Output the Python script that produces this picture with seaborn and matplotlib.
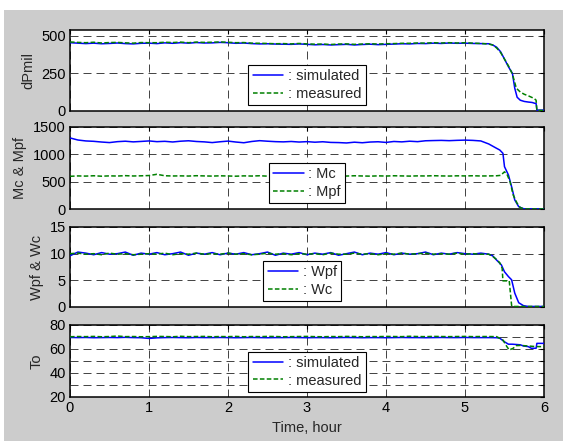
import numpy as np
import pandas as pd
import matplotlib
matplotlib.use("Agg")
import matplotlib.pyplot as plt
import seaborn as sns
from matplotlib.patches import Rectangle
from matplotlib.lines import Line2D

sns.set_style("white")
plt.rcParams['font.family'] = ['Liberation Sans', 'DejaVu Sans']
FS = 10.5
plt.rcParams['font.size'] = FS

# ---------------- data ----------------
T_BASE = [0.0, 0.1, 0.2, 0.3, 0.4, 0.5, 0.6, 0.7, 0.8, 0.9,
          1.0, 1.1, 1.2, 1.3, 1.4, 1.5, 1.6, 1.7, 1.8, 1.9,
          2.0, 2.1, 2.2, 2.3, 2.4, 2.5, 2.6, 2.7, 2.8, 2.9,
          3.0, 3.1, 3.2, 3.3, 3.4, 3.5, 3.6, 3.7, 3.8, 3.9,
          4.0, 4.1, 4.2, 4.3, 4.4, 4.5, 4.6, 4.7, 4.8, 4.9,
          5.0, 5.1, 5.2]

# Panel 1: dPmil
dp_sim = [455, 452, 449, 452, 448, 450, 453, 449, 447, 451,
          452, 449, 454, 451, 455, 452, 456, 453, 454, 457,
          455, 451, 453, 449, 447, 448, 446, 445, 444, 447,
          444, 441, 443, 440, 442, 444, 440, 443, 445, 442,
          444, 446, 448, 447, 450, 449, 452, 450, 453, 451,
          452, 450, 449]
dp_sim_tail_t = [5.3, 5.35, 5.4, 5.45, 5.5, 5.55, 5.6, 5.63, 5.66, 5.7, 5.75, 5.8, 5.85, 5.88, 5.9, 5.91, 6.0]
dp_sim_tail_v = [448, 440, 425, 395, 345, 294, 250, 150, 90, 70, 62, 58, 55, 50, 48, 4, 4]
dp_meas = [460, 457, 455, 458, 453, 456, 457, 454, 452, 456,
           455, 455, 458, 456, 459, 455, 459, 457, 458, 460,
           458, 455, 456, 452, 451, 450, 448, 449, 447, 450,
           447, 445, 446, 443, 446, 447, 444, 446, 448, 446,
           448, 449, 451, 451, 453, 452, 455, 453, 455, 453,
           455, 452, 450]
dp_meas_tail_t = [5.3, 5.35, 5.4, 5.45, 5.5, 5.55, 5.6, 5.65, 5.7, 5.75, 5.8, 5.85, 5.88, 5.9, 5.91, 6.0]
dp_meas_tail_v = [446, 440, 420, 390, 345, 300, 245, 150, 125, 110, 100, 88, 80, 70, 2, 2]

# Panel 2: Mc & Mpf
mc_sim = [1300, 1262, 1245, 1238, 1225, 1215, 1232, 1240, 1228, 1236,
          1245, 1232, 1238, 1226, 1240, 1248, 1235, 1228, 1215, 1230,
          1242, 1225, 1212, 1235, 1250, 1240, 1232, 1228, 1235, 1225,
          1232, 1222, 1230, 1218, 1215, 1208, 1222, 1212, 1225, 1230,
          1218, 1235, 1228, 1240, 1232, 1248, 1252, 1255, 1250, 1256,
          1260, 1255, 1245]
mc_sim_tail_t = [5.3, 5.35, 5.4, 5.44, 5.48, 5.5, 5.55, 5.59, 5.63, 5.68, 5.74, 5.8, 6.0]
mc_sim_tail_v = [1190, 1150, 1110, 1079, 1019, 774, 622, 408, 165, 42, 5, 2, 2]
mpf_meas = [598, 605, 602, 608, 600, 606, 603, 610, 604, 607,
            612, 635, 608, 604, 606, 603, 609, 605, 602, 607,
            604, 600, 606, 603, 608, 601, 605, 609, 603, 606,
            602, 607, 604, 600, 605, 603, 608, 604, 601, 606,
            603, 608, 605, 602, 606, 604, 609, 605, 603, 607,
            605, 608, 604]
mpf_meas_tail_t = [5.3, 5.4, 5.45, 5.5, 5.53, 5.57, 5.61, 5.66, 5.7, 5.75, 6.0]
mpf_meas_tail_v = [605, 608, 615, 680, 640, 500, 256, 104, 24, 2, 2]

# Panel 3: Wpf & Wc
wpf_sim = [9.6, 10.3, 10.1, 9.8, 10.2, 9.9, 10.0, 10.3, 9.7, 10.1,
           9.9, 10.2, 9.8, 10.0, 10.3, 9.7, 10.1, 9.9, 10.2, 9.8,
           10.1, 9.9, 10.2, 9.8, 10.0, 10.3, 9.7, 10.1, 9.9, 10.2,
           9.8, 10.1, 9.9, 10.2, 9.7, 10.0, 10.3, 9.8, 10.1, 9.9,
           10.2, 9.8, 10.1, 9.9, 10.0, 10.3, 9.8, 10.1, 9.9, 10.2,
           10.0, 9.9, 10.1]
wpf_sim_tail_t = [5.3, 5.35, 5.4, 5.46, 5.5, 5.55, 5.59, 5.63, 5.68, 5.74, 5.8, 6.0]
wpf_sim_tail_v = [9.9, 9.6, 8.8, 7.9, 6.6, 5.7, 5.1, 2.6, 0.8, 0.25, 0.1, 0.1]
wc_meas = [10.0, 10.1, 9.9, 10.0, 9.8, 10.1, 9.9, 10.0, 9.8, 9.9,
           10.0, 9.9, 10.1, 9.8, 10.0, 9.9, 10.1, 9.9, 10.0, 9.9,
           10.1, 9.9, 10.0, 9.8, 9.9, 10.1, 9.9, 10.0, 9.8, 10.0,
           9.9, 10.0, 9.8, 10.1, 9.9, 9.9, 10.1, 9.9, 10.0, 9.8,
           10.0, 9.9, 10.1, 9.9, 10.0, 10.1, 9.9, 10.0, 9.9, 10.1,
           9.9, 10.0, 9.9]
wc_meas_tail_t = [5.3, 5.35, 5.4, 5.44, 5.47, 5.48, 5.56, 5.59, 5.6, 6.0]
wc_meas_tail_v = [9.9, 9.5, 8.9, 8.3, 7.3, 4.9, 4.9, 0.3, 0.1, 0.1]

# Panel 4: To
to_sim = [69.6, 69.5, 69.6, 69.4, 69.5, 69.6, 69.5, 69.7, 69.5, 69.4,
          68.8, 69.3, 69.5, 69.6, 69.5, 69.4, 69.6, 69.5, 69.5, 69.6,
          69.5, 69.4, 69.5, 69.6, 69.5, 69.4, 69.5, 69.5, 69.6, 69.5,
          69.4, 69.5, 69.5, 69.4, 69.5, 69.6, 69.5, 69.4, 69.5, 69.5,
          69.4, 69.5, 69.6, 69.5, 69.5, 69.4, 69.5, 69.6, 69.5, 69.5,
          69.6, 69.5, 69.5]
to_sim_tail_t = [5.3, 5.4, 5.44, 5.5, 5.55, 5.6, 5.7, 5.74, 5.8, 5.84, 5.9, 5.91, 6.0]
to_sim_tail_v = [69.5, 69.4, 69.0, 66.0, 64.0, 64.0, 63.5, 62.5, 62.0, 60.6, 60.6, 64.7, 64.7]
to_meas = [70.2, 70.4, 70.3, 70.5, 70.2, 70.4, 70.8, 70.3, 70.4, 70.2,
           70.3, 70.5, 70.4, 70.2, 70.6, 70.3, 70.4, 70.5, 70.2, 70.4,
           70.3, 70.5, 70.2, 70.4, 70.3, 70.5, 70.4, 70.2, 70.3, 70.4,
           70.5, 70.3, 70.2, 70.4, 70.3, 70.5, 70.4, 70.2, 70.4, 70.3,
           70.5, 70.4, 70.3, 70.6, 70.4, 70.3, 70.5, 70.4, 70.3, 70.4,
           70.5, 70.3, 70.4]
to_meas_tail_t = [5.3, 5.4, 5.48, 5.53, 5.56, 5.61, 5.65, 5.7, 5.8, 5.9, 6.0]
to_meas_tail_v = [70.4, 70.3, 67.5, 62.0, 59.2, 60.6, 62.8, 63.0, 62.5, 62.0, 62.0]

YLABELS = ["dPmil", "Mc & Mpf", "Wpf & Wc", "To"]
LEGEND_LABELS = [[": simulated", ": measured"], [": Mc", ": Mpf"],
                 [": Wpf", ": Wc"], [": simulated", ": measured"]]
XTICKS = [0, 1, 2, 3, 4, 5, 6]
XLABEL = "Time, hour"

# ---------------- figure ----------------
W, H = 563, 441
fig = plt.figure(figsize=(W / 100, H / 100), dpi=100, facecolor='white')
fig.patches.append(Rectangle((4 / W, 0), 1 - 4 / W, (H - 10) / H,
                             transform=fig.transFigure, facecolor='#cccccc',
                             edgecolor='none', zorder=-10))

# axes boxes in pixel coords (top, bottom)
boxes = [(30, 110.7), (127, 209), (227, 307), (325, 397)]
left_px, right_px = 70, 544

panels = [
    (T_BASE + dp_sim_tail_t, dp_sim + dp_sim_tail_v, T_BASE + dp_meas_tail_t, dp_meas + dp_meas_tail_v,
     (0, 540), [0, 250, 500], ["0", "250", "500"], 0.5),
    (T_BASE + mc_sim_tail_t, mc_sim + mc_sim_tail_v, T_BASE + mpf_meas_tail_t, mpf_meas + mpf_meas_tail_v,
     (0, 1500), [0, 500, 1000, 1500], ["0", "500", "1000", "1500"], 0.5),
    (T_BASE + wpf_sim_tail_t, wpf_sim + wpf_sim_tail_v, T_BASE + wc_meas_tail_t, wc_meas + wc_meas_tail_v,
     (0, 15), [0, 5, 10, 15], ["0", "5", "10", "15"], 0.49),
    (T_BASE + to_sim_tail_t, to_sim + to_sim_tail_v, T_BASE + to_meas_tail_t, to_meas + to_meas_tail_v,
     (20, 80), [20, 30, 40, 50, 60, 70, 80], ["20", "", "40", "", "60", "", "80"], 0.5),
]

BLUE = '#0000ff'
GREEN = '#008000'
grid_ls = (0, (9.6, 6))

for i, (ts, vs, tm, vm, ylim, yt, ytl, lx) in enumerate(panels):
    top, bot = boxes[i]
    ax = fig.add_axes([left_px / W, (H - bot) / H, (right_px - left_px) / W, (bot - top) / H])
    ax.set_facecolor('white')
    df_s = pd.DataFrame({"t": ts, "v": vs})
    df_m = pd.DataFrame({"t": tm, "v": vm})
    sns.lineplot(data=df_s, x="t", y="v", ax=ax, color=BLUE, lw=1.1,
                 estimator=None, sort=False, zorder=3)
    sns.lineplot(data=df_m, x="t", y="v", ax=ax, color=GREEN, lw=1.1,
                 linestyle=(0, (3, 1.5)), estimator=None, sort=False, zorder=4)
    ax.set_xlim(0, 6)
    ax.set_ylim(*ylim)
    ax.set_xticks(XTICKS)
    ax.set_yticks(yt)
    ax.set_yticklabels(ytl)
    ax.grid(True, color='#222222', lw=0.6, linestyle=grid_ls)
    ax.set_axisbelow(True)
    ax.tick_params(direction='in', length=3, width=0.8, top=True, right=True,
                   labelsize=FS, pad=3, colors='k')
    for sp in ax.spines.values():
        sp.set_visible(True)
        sp.set_color('k')
        sp.set_linewidth(1.1)
    ax.set_ylabel(YLABELS[i], fontsize=FS, labelpad=4)
    if i < 3:
        ax.tick_params(labelbottom=False)
        ax.set_xlabel("")
    else:
        ax.set_xticklabels([str(x) for x in XTICKS])
        ax.set_xlabel(XLABEL, fontsize=FS, labelpad=4)
    handles = [Line2D([], [], color=BLUE, lw=1.1),
               Line2D([], [], color=GREEN, lw=1.1, linestyle=(0, (3, 1.5)))]
    leg = ax.legend(handles, LEGEND_LABELS[i], loc='lower center',
                    bbox_to_anchor=(lx, 0.07), frameon=True, fancybox=False,
                    edgecolor='k', framealpha=1, handlelength=2.1,
                    handletextpad=0.3, borderpad=0.3, labelspacing=0.25,
                    borderaxespad=0, fontsize=FS)
    leg.get_frame().set_linewidth(0.8)
    leg.set_zorder(10)

fig.savefig("out.png", dpi=100, facecolor=fig.get_facecolor())
